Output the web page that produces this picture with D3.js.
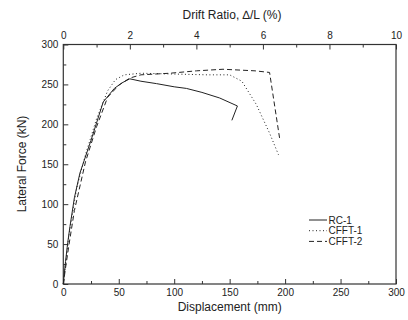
<!DOCTYPE html>
<html><head><meta charset="utf-8">
<script src="https://cdn.jsdelivr.net/npm/d3@7"></script>
<style>body{margin:0;background:#fff}svg{display:block}text{font-family:"Liberation Sans",Arial,sans-serif;fill:#222}</style>
</head><body><svg id="c" width="408" height="320"></svg>
<script>
const rc1 = [[0,0],[2,28],[4,52],[6,72],[10,108],[15,139],[25,180],[36,228],[46,245],[53,252],[60,257],[70,254],[84,251],[100,247],[111,245],[125,240],[141,233],[157,223],[152,205]];
const cfft1 = [[0,0],[2,25],[5,60],[12,120],[20,162],[30,207],[40,242],[47,256],[55,262],[70,264],[100,263],[130,262],[150,262],[161,254],[174,225],[186,189],[194,162]];
const cfft2 = [[0,0],[2,20],[5,48],[10,92],[20,153],[30,197],[40,234],[50,249],[60,258],[70,262],[96,264],[120,267],[144,269],[173,267],[186,265],[195,183]];
const seriesNames = ["RC-1","CFFT-1","CFFT-2"];
const xTicks = [0,25,50,75,100,125,150,175,200,225,250,275,300];
const yTicks = [0,25,50,75,100,125,150,175,200,225,250,275,300];
const driftTicks = [0,1,2,3,4,5,6,7,8,9,10];

const svg = d3.select("#c");
const L=63.3, R=396, T=44.5, B=284;
const x = d3.scaleLinear().domain([0,300]).range([L,R]);
const y = d3.scaleLinear().domain([0,300]).range([B,T]);
const xd = d3.scaleLinear().domain([0,10]).range([L,R]);
const axisColor = "#333";

function styleAxis(g, isMajor, lenMaj, lenMin, dim){
  g.select(".domain").remove();
  g.selectAll(".tick line").attr("stroke",axisColor).attr(dim, d=> isMajor(d)? lenMaj : lenMin);
  g.selectAll(".tick text").style("font-size","10px").attr("fill","#222");
}
// bottom
const gb = svg.append("g").attr("transform",`translate(0,${B})`)
  .call(d3.axisBottom(x).tickValues(xTicks).tickFormat(d=>d%50===0?d:"").tickSize(0).tickPadding(5));
styleAxis(gb, d=>d%50===0, -5, -3, "y2");
// left
const gl = svg.append("g").attr("transform",`translate(${L},0)`)
  .call(d3.axisLeft(y).tickValues(yTicks).tickFormat(d=>d%50===0?d:"").tickSize(0).tickPadding(5));
styleAxis(gl, d=>d%50===0, 5, 3, "x2");
// top
const gt = svg.append("g").attr("transform",`translate(0,${T})`)
  .call(d3.axisTop(xd).tickValues(driftTicks).tickFormat(d=>d%2===0?d:"").tickSize(0).tickPadding(6));
styleAxis(gt, d=>d%2===0, 5, 3, "y2");

// frame
svg.append("rect").attr("x",L).attr("y",T).attr("width",R-L).attr("height",B-T)
  .attr("fill","none").attr("stroke",axisColor).attr("stroke-width",1.2);

const line = d3.line().x(d=>x(d[0])).y(d=>y(d[1]));
const styles = [
  {data:rc1, dash:null},
  {data:cfft1, dash:"1,2.5"},
  {data:cfft2, dash:"5,3"}
];
styles.forEach(s=>{
  svg.append("path").attr("d",line(s.data)).attr("fill","none").attr("stroke","#222")
    .attr("stroke-width",1).attr("stroke-dasharray",s.dash);
});

// legend
const lg = svg.append("g");
seriesNames.forEach((n,i)=>{
  const yy = 220 + i*10.7;
  lg.append("line").attr("x1",309).attr("x2",327).attr("y1",yy).attr("y2",yy)
    .attr("stroke","#222").attr("stroke-width",1).attr("stroke-dasharray",styles[i].dash);
  lg.append("text").attr("x",328.5).attr("y",yy+3.6).style("font-size","10px").text(n);
});

// titles
svg.append("text").attr("x",(L+R)/2).attr("y",311).attr("text-anchor","middle").style("font-size","12px").text("Displacement (mm)");
svg.append("text").attr("x",232).attr("y",19).attr("text-anchor","middle").style("font-size","12px").text("Drift Ratio, \u2206/L (%)");
svg.append("text").attr("transform","translate(26,164) rotate(-90)").attr("text-anchor","middle").style("font-size","12px").text("Lateral Force (kN)");
</script></body></html>
